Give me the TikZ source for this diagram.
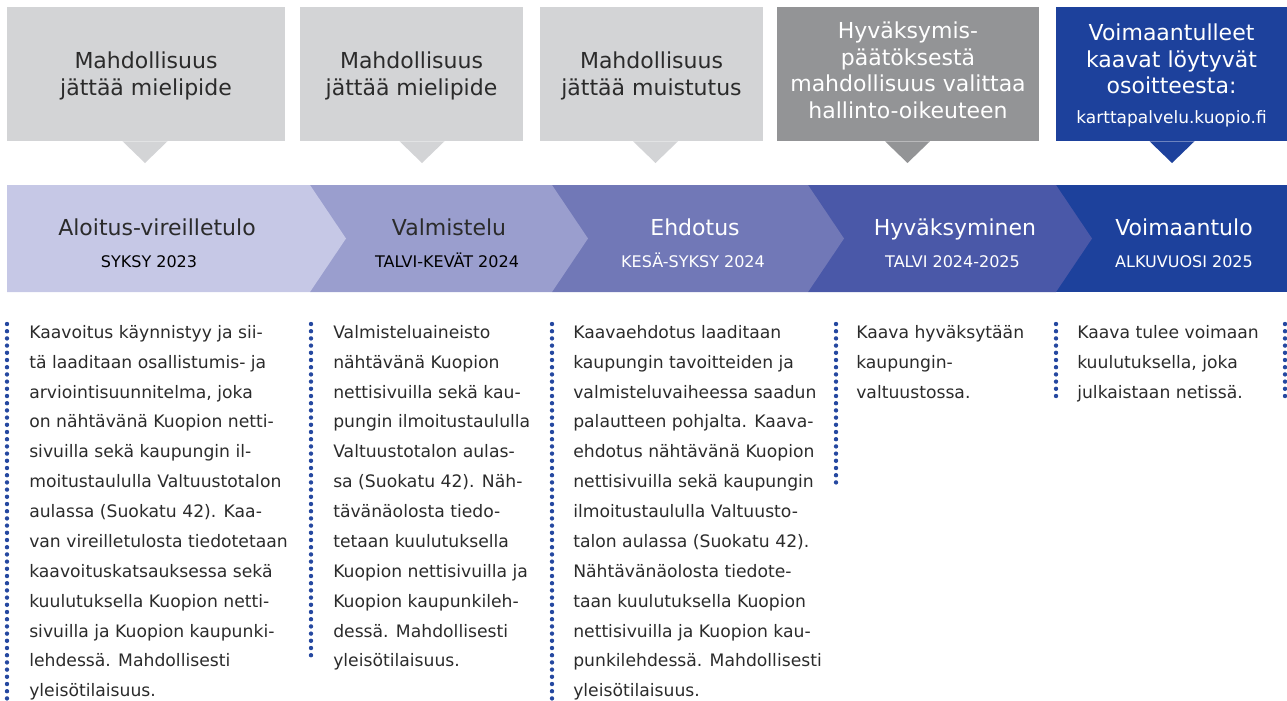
\documentclass[tikz,border=0pt]{standalone}
\usepackage{fontspec}
\setmainfont{DejaVu Sans}
\usetikzlibrary{positioning}

\definecolor{boxlight}{HTML}{D3D4D6}
\definecolor{boxdark}{HTML}{939496}
\definecolor{kuopioblue}{HTML}{1D419C}
\definecolor{phaseA}{HTML}{C6C8E6}
\definecolor{phaseB}{HTML}{9A9ECE}
\definecolor{phaseC}{HTML}{7178B7}
\definecolor{phaseD}{HTML}{4A58A8}
\definecolor{textdark}{HTML}{2B2B2B}
\definecolor{dotblue}{HTML}{2548A0}

\tikzset{
  callout/.style={rectangle, inner sep=0pt, minimum height=100.5pt},
  callouttext/.style={inner sep=0pt, align=center, text=textdark,
    font=\fontsize{16.5}{20}\selectfont},
  phasetitle/.style={anchor=base, inner sep=0pt, font=\fontsize{16.5}{20}\selectfont},
  phasedate/.style={anchor=base, inner sep=0pt, font=\fontsize{12}{14}\selectfont},
  bodytext/.style={anchor=north west, align=left, inner sep=0pt, text=textdark,
    font=\fontsize{12.9}{22.4}\selectfont},
  dotline/.style={draw=dotblue, line width=3.3pt, line cap=round, dash pattern=on 0pt off 5.4pt},
}

\begin{document}
\begin{tikzpicture}[x=0.75pt, y=-0.75pt]
    \useasboundingbox (0,0) rectangle (1287,700);

    % Callouts (top row)
    \node (say1) [callout, fill=boxlight, minimum width=208.5pt] at (146,74) {};
    \node (say2) [callout, fill=boxlight, minimum width=167.25pt] at (411.5,74) {};
    \node (say3) [callout, fill=boxlight, minimum width=167.25pt] at (651.5,74) {};
    \node (say4) [callout, fill=boxdark, minimum width=196.5pt] at (908,74) {};
    \node (say5) [callout, fill=kuopioblue, minimum width=173.25pt] at (1171.5,74) {};
    \foreach \b/\x/\c in {say1/145/boxlight, say2/422/boxlight, say3/655.5/boxlight, say4/907.5/boxdark, say5/1172/kuopioblue}
      \fill[\c] ({\x-22.5},0 |- \b.south) -- (\x,163) -- ({\x+22.5},0 |- \b.south) -- cycle;
    \node (note1) [callouttext] at ([yshift=-1.5pt]say1.center) {Mahdollisuus\\jättää mielipide};
    \node (note2) [callouttext] at ([yshift=-1.5pt]say2.center) {Mahdollisuus\\jättää mielipide};
    \node (note3) [callouttext] at ([yshift=-1.5pt]say3.center) {Mahdollisuus\\jättää muistutus};
    \node (note4) [callouttext, text=white] at ([yshift=2.7pt]say4.center) {Hyväksymis-\\päätöksestä\\mahdollisuus valittaa\\hallinto-oikeuteen};
    \node (note5) [callouttext, text=white] at ([yshift=-1pt]say5.center) {Voimaantulleet\\kaavat löytyvät\\osoitteesta:\\[2.2pt]{\fontsize{12.75}{15}\selectfont karttapalvelu.kuopio.fi}};

    % Phase band (drawn back to front)
    \fill[kuopioblue] (1056,185) rectangle (1287,292);
    \foreach \xl/\xr/\c in {808/1056/phaseD, 552/808/phaseC, 310/552/phaseB, 7/310/phaseA}
      \fill[\c] (\xl,185) -- (\xr,185) -- ({\xr+36},238.5) -- (\xr,292) -- (\xl,292) -- cycle;

    % Phase names and dates
    \node (ph1) [phasetitle, text=textdark] at (157,235) {Aloitus-vireilletulo}; \node (dt1) [phasedate, text=black] at (149,267) {SYKSY 2023};
    \node (ph2) [phasetitle, text=textdark] at (449,235) {Valmistelu}; \node (dt2) [phasedate, text=black] at (447,267) {TALVI-KEVÄT 2024};
    \node (ph3) [phasetitle, text=white] at (695,235) {Ehdotus}; \node (dt3) [phasedate, text=white] at (693,267) {KESÄ-SYKSY 2024};
    \node (ph4) [phasetitle, text=white] at (955,235) {Hyväksyminen}; \node (dt4) [phasedate, text=white] at (952.5,267) {TALVI 2024-2025};
    \node (ph5) [phasetitle, text=white] at (1184,235) {Voimaantulo}; \node (dt5) [phasedate, text=white] at (1184,267) {ALKUVUOSI 2025};

    % Column borders
    \draw[dotline] (7,324) -- (7,700);
    \draw[dotline] (311,324) -- (311,662);
    \draw[dotline] (552,324) -- (552,700);
    \draw[dotline] (836,324) -- (836,485);
    \draw[dotline] (1056,324) -- (1056,396);
    \draw[dotline] (1285,324) -- (1285,396);

    % Column texts
    \node (txt1) [bodytext] at (29,325) {Kaavoitus käynnistyy ja sii-\\tä laaditaan osallistumis- ja\\arviointisuunnitelma, joka\\on nähtävänä Kuopion netti-\\sivuilla sekä kaupungin il-\\moitustaululla Valtuustotalon\\aulassa (Suokatu 42). Kaa-\\van vireilletulosta tiedotetaan\\kaavoituskatsauksessa sekä\\kuulutuksella Kuopion netti-\\sivuilla ja Kuopion kaupunki-\\lehdessä. Mahdollisesti\\yleisötilaisuus.};
    \node (txt2) [bodytext] at (333,325) {Valmisteluaineisto\\nähtävänä Kuopion\\nettisivuilla sekä kau-\\pungin ilmoitustaululla\\Valtuustotalon aulas-\\sa (Suokatu 42). Näh-\\tävänäolosta tiedo-\\tetaan kuulutuksella\\Kuopion nettisivuilla ja\\Kuopion kaupunkileh-\\dessä. Mahdollisesti\\yleisötilaisuus.};
    \node (txt3) [bodytext] at (573,325) {Kaavaehdotus laaditaan\\kaupungin tavoitteiden ja\\valmisteluvaiheessa saadun\\palautteen pohjalta. Kaava-\\ehdotus nähtävänä Kuopion\\nettisivuilla sekä kaupungin\\ilmoitustaululla Valtuusto-\\talon aulassa (Suokatu 42).\\Nähtävänäolosta tiedote-\\taan kuulutuksella Kuopion\\nettisivuilla ja Kuopion kau-\\punkilehdessä. Mahdollisesti\\yleisötilaisuus.};
    \node (txt4) [bodytext] at (856,325) {Kaava hyväksytään\\kaupungin-\\valtuustossa.};
    \node (txt5) [bodytext] at (1077,325) {Kaava tulee voimaan\\kuulutuksella, joka\\julkaistaan netissä.};
\end{tikzpicture}
\end{document}
